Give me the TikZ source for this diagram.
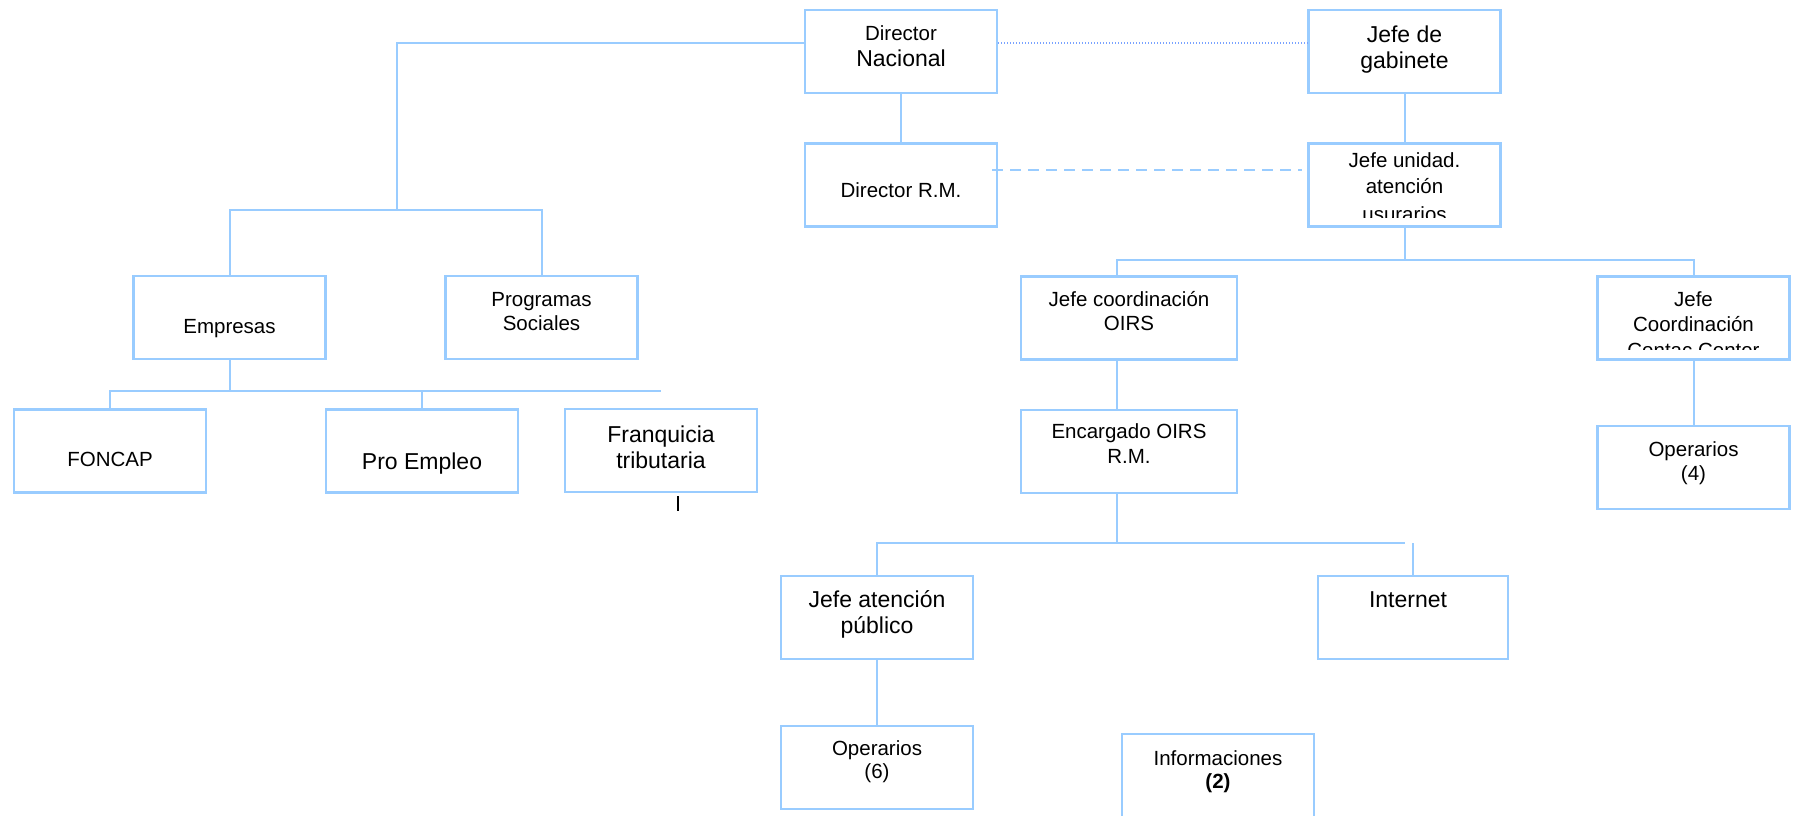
\documentclass[tikz,border=0pt]{standalone}
\usepackage{fontspec}
\setmainfont{Liberation Sans}
\definecolor{orgline}{RGB}{153,204,255}
\tikzset{
  box/.style={draw=orgline, line width=2.2pt, inner sep=0pt, rectangle,
    minimum width=192pt, minimum height=83pt},
  conn/.style={draw=orgline, line width=2pt},
  dotconn/.style={draw=orgline!80!blue, line width=1.3pt, dash pattern=on 1.3pt off 1.7pt},
  dashconn/.style={draw=orgline, line width=2.2pt, dash pattern=on 11pt off 7pt},
  sm/.style={inner sep=0pt, anchor=base, font=\fontsize{20.5}{24}\selectfont},
  lg/.style={inner sep=0pt, anchor=base, font=\fontsize{23}{27}\selectfont},
}
\begin{document}
\begin{tikzpicture}[x=1pt,y=-1pt]
\useasboundingbox (0,0) rectangle (1794,815);
\clip (0,0) rectangle (1794,815);

% boxes
\node[box] (dn)  at (901,51.5) {};
\node[box] (jdg) at (1404.5,51.5) {};
\node[box] (drm) at (901,185) {};
\node[box] (ju)  at (1404.5,185) {};
\node[box] (emp) at (229.5,317.5) {};
\node[box] (ps)  at (541.5,317.5) {};
\node[box] (fon) at (110,451) {};
\node[box] (pe)  at (422,451) {};
\node[box] (fr)  at (661,450.5) {};
\node[box, minimum width=216pt] (jc)  at (1129,318) {};
\node[box, minimum width=216pt] (enc) at (1129,451.5) {};
\node[box] (jcc) at (1693.5,318) {};
\node[box] (op4) at (1693.5,467.5) {};
\node[box] (jap) at (877,617.5) {};
\node[box, minimum width=190pt] (net) at (1413,617.5) {};
\node[box] (op6) at (877,767.5) {};
\node[box, minimum height=90pt] (inf) at (1218,779) {};

% junction points
\coordinate (topline)  at (0,43);
\coordinate (leftturn) at (397,210);
\coordinate (jubus)    at (0,260);
\coordinate (jcx)      at (1117,0);
\coordinate (encbus)   at (0,543);
\coordinate (encend)   at (1405,543);
\coordinate (empbus)   at (0,391);
\coordinate (franend)  at (661,391);
\coordinate (dashstart) at (992,170);
\coordinate (dashend)   at (1302,170);
\coordinate (ticktop)   at (678,496);
\coordinate (tickbot)   at (678,511);

% connectors
\draw[conn] (dn.west |- topline) -| (leftturn);
\draw[conn] (emp.north) |- (ps.north |- leftturn) -- (ps.north);
\draw[conn] (dn) -- (drm);
\draw[dotconn] (dn.east |- topline) -- (jdg.west |- topline);
\draw[dashconn] (dashstart) -- (dashend);
\draw[conn] (jdg) -- (ju);
\draw[conn] (ju.south) -- (ju.south |- jubus);
\draw[conn] (jcx |- jc.north) -- (jcx |- jubus) -| (jcc.north);
\draw[conn] (jcx |- jc.south) -- (jcx |- enc.north);
\draw[conn] (jcx |- enc.south) -- (jcx |- encbus);
\draw[conn] (jap.north) |- (encend);
\draw[conn] (net.north) -- (net.north |- encbus);
\draw[conn] (jcc) -- (op4);
\draw[conn] (jap) -- (op6);
\draw[conn] (emp.south) -- (emp.south |- empbus);
\draw[conn] (fon.north) |- (franend);
\draw[conn] (pe.north) -- (pe.north |- empbus);
\draw[black, line width=1.8pt] (ticktop) -- (tickbot);

% labels
\node[sm] (dn-a) at (901,40.7) {Director};
\node[lg] (dn-b) at (901,66.7) {Nacional};
\node[lg] (jdg-a) at (1404.5,42.7) {Jefe de};
\node[lg] (jdg-b) at (1404.5,68.3) {gabinete};
\node[sm] (drm-a) at (901,197) {Director R.M.};
\begin{scope}
  \clip (1308,143) rectangle (1501,217.3);
  \node[sm] (ju-a) at (1404.5,167) {Jefe unidad.};
  \node[sm] (ju-b) at (1404.5,193) {atención};
  \node[sm] (ju-c) at (1404.5,221.5) {usurarios};
\end{scope}
\node[sm] (emp-a) at (229.5,333) {Empresas};
\node[sm] (ps-a) at (541.5,306) {Programas};
\node[sm] (ps-b) at (541.5,330) {Sociales};
\node[sm] (fon-a) at (110,466) {FONCAP};
\node[lg] (pe-a) at (422,469) {Pro Empleo};
\node[lg] (fr-a) at (661,442) {Franquicia};
\node[lg] (fr-b) at (661,468) {tributaria};
\node[sm] (jc-a) at (1129,306) {Jefe coordinación};
\node[sm] (jc-b) at (1129,330) {OIRS};
\node[sm] (enc-a) at (1129,438) {Encargado OIRS};
\node[sm] (enc-b) at (1129,463) {R.M.};
\begin{scope}
  \clip (1597,277) rectangle (1790,349.5);
  \node[sm] (jcc-a) at (1693.5,306) {Jefe};
  \node[sm] (jcc-b) at (1693.5,331) {Coordinación};
  \node[sm] (jcc-c) at (1693.5,357) {Contac Center};
\end{scope}
\node[sm] (op4-a) at (1693.5,456) {Operarios};
\node[sm] (op4-b) at (1693.5,480) {(4)};
\node[lg] (jap-a) at (877,607) {Jefe atención};
\node[lg] (jap-b) at (877,633) {público};
\node[lg] (net-a) at (1408,607) {Internet};
\node[sm] (op6-a) at (877,755) {Operarios};
\node[sm] (op6-b) at (877,778) {(6)};
\node[sm] (inf-a) at (1218,765) {Informaciones};
\node[sm] (inf-b) at (1218,788) {\bfseries (2)};
\end{tikzpicture}
\end{document}
